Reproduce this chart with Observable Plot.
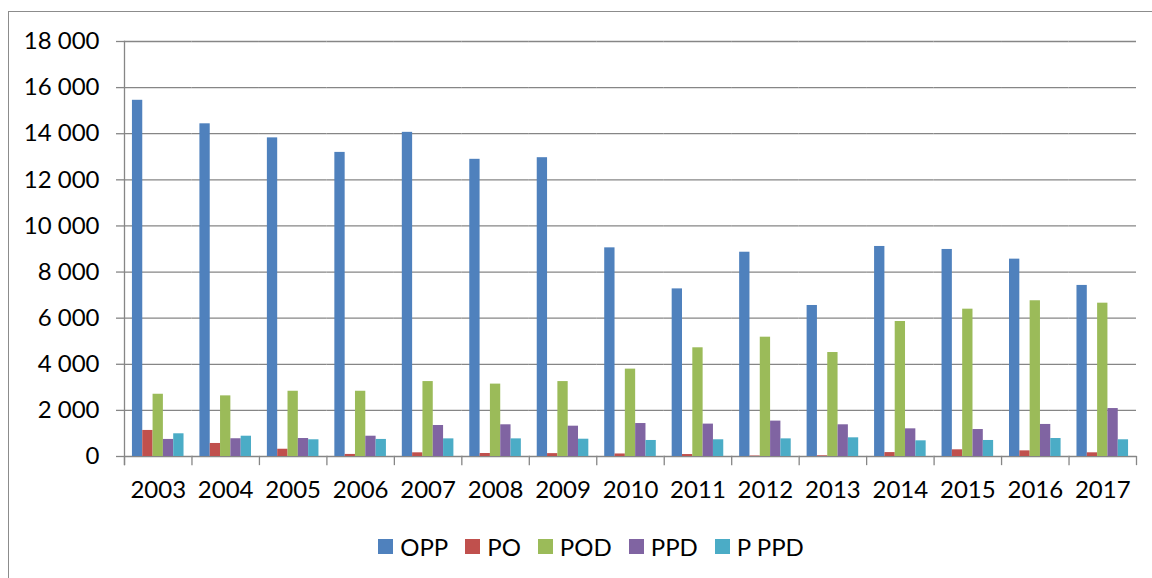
<!DOCTYPE html>
<html>
<head>
<meta charset="utf-8">
<script src="https://cdn.jsdelivr.net/npm/d3@7"></script>
<script src="https://cdn.jsdelivr.net/npm/@observablehq/plot@0.6"></script>
<style>
  html, body { margin: 0; padding: 0; background: #fff; overflow: hidden; }
  body { width: 1152px; height: 578px; position: relative; font-family: Lato, "Open Sans", sans-serif; }
  #frame { position: absolute; left: 8px; top: 11px; width: 1300px; height: 700px; border-left: 1.3px solid #8c8c8c; border-top: 1.3px solid #8c8c8c; }
  #chart { position: absolute; left: 0; top: 0; }
  #legend { position: absolute; top: 532px; left: 0; width: 1182px; display: flex; justify-content: center; align-items: center; font-size: 24px; color: #000; }
  #legend .item { display: flex; align-items: center; margin: 0 8.5px; }
  #legend .sw { width: 15px; height: 15px; margin-right: 7px; }
</style>
</head>
<body>
<div id="frame"></div>
<div id="chart"></div>
<div id="legend"></div>
<script>
const years = ["2003","2004","2005","2006","2007","2008","2009","2010","2011","2012","2013","2014","2015","2016","2017"];
const series = ["OPP", "PO", "POD", "PPD", "P PPD"];
const colors = ["#4f81bd", "#c0504d", "#9bbb59", "#8064a2", "#4bacc6"];
const OPP  = [15450, 14430, 13820, 13190, 14060, 12890, 12960, 9050, 7270, 8860, 6550, 9110, 8980, 8560, 7420];
const PO   = [1130, 565, 315, 90, 160, 130, 125, 110, 85, 20, 30, 170, 290, 245, 160];
const POD  = [2700, 2630, 2830, 2830, 3250, 3140, 3250, 3790, 4715, 5175, 4510, 5855, 6390, 6755, 6650];
const PPD  = [740, 770, 780, 880, 1345, 1375, 1315, 1430, 1405, 1535, 1375, 1200, 1170, 1390, 2080];
const PPPD = [985, 880, 725, 740, 765, 765, 750, 695, 725, 765, 810, 680, 695, 780, 725];
const yTicks = [0, 2000, 4000, 6000, 8000, 10000, 12000, 14000, 16000, 18000];

const valuesBySeries = [OPP, PO, POD, PPD, PPPD];
const data = years.flatMap((year, i) =>
  series.map((s, k) => ({year, series: s, value: valuesBySeries[k][i]})));

const fmt = d3.formatLocale({decimal: ",", thousands: " ", grouping: [3]}).format(",");
const gray = "#868686";
const W = 1152, H = 510, mTop = 41, mBottom = 54, mLeft = 124, mRight = 16;
const innerH = H - mTop - mBottom;

const chart = Plot.plot({
  width: W,
  height: H,
  marginTop: mTop,
  marginBottom: mBottom,
  marginLeft: mLeft,
  marginRight: mRight,
  style: {fontFamily: "Lato, 'Open Sans', sans-serif", fontSize: "24px", color: "#000", background: "transparent", overflow: "visible"},
  fx: {domain: years, paddingInner: 0, paddingOuter: 0, round: false, label: null},
  x: {domain: series, paddingInner: 0, paddingOuter: 0.77, round: false, axis: null},
  y: {domain: [0, 18000], label: null},
  color: {domain: series, range: colors},
  marks: [
    Plot.ruleY(yTicks, {y: d => d, stroke: gray, strokeWidth: 1.3}),
    Plot.barY(data, {fx: "year", x: "series", y: "value", fill: "series"}),
    Plot.frame({anchor: "left", facetAnchor: "left", stroke: gray, strokeWidth: 1.3, insetBottom: -8}),
    Plot.frame({anchor: "left", stroke: gray, strokeWidth: 1.3, insetTop: innerH, insetBottom: -8}),
    Plot.frame({anchor: "right", facetAnchor: "right", stroke: gray, strokeWidth: 1.3, insetTop: innerH, insetBottom: -8}),
    Plot.axisY({ticks: yTicks, tickSize: 8, tickPadding: 17, tickFormat: fmt, stroke: gray, strokeWidth: 1.3, fill: "#000", label: null}),
    Plot.axisFx({anchor: "bottom", tickSize: 0, tickPadding: 24, fill: "#000", label: null})
  ]
});
document.getElementById("chart").appendChild(chart);

const legend = document.getElementById("legend");
series.forEach((s, k) => {
  const item = document.createElement("div");
  item.className = "item";
  item.innerHTML = `<span class="sw" style="background:${colors[k]}"></span><span>${s}</span>`;
  legend.appendChild(item);
});
</script>
</body>
</html>
